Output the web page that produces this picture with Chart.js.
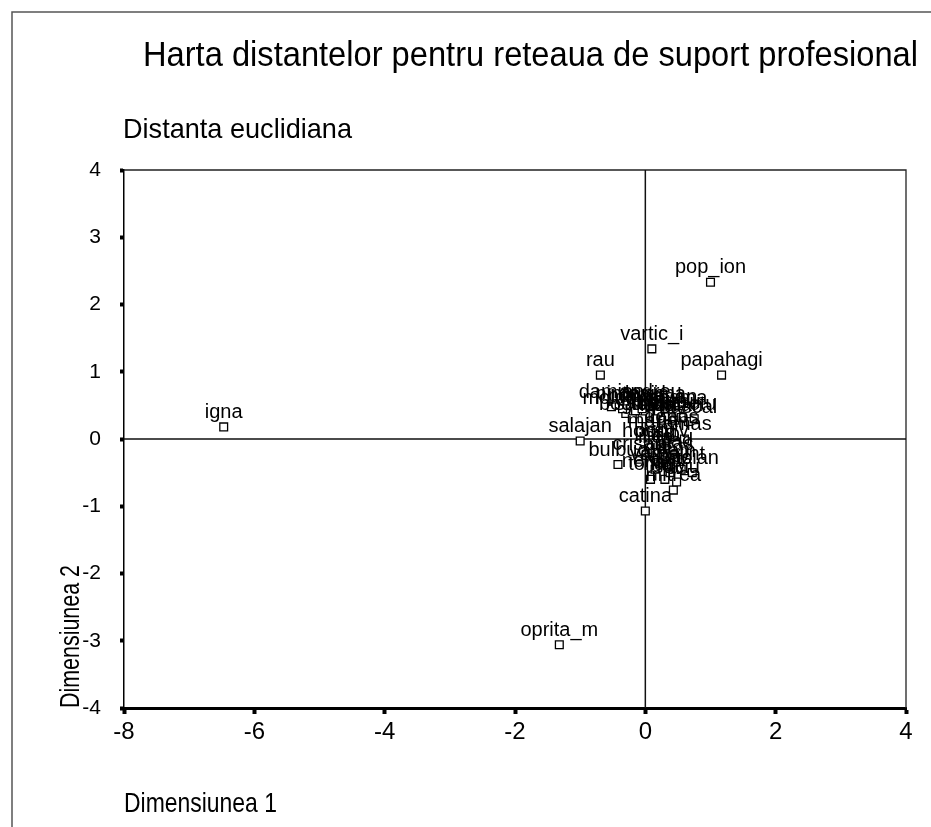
<!DOCTYPE html>
<html>
<head>
  <title>Harta distantelor pentru reteaua de suport profesional</title>
  <script src="https://cdn.jsdelivr.net/npm/chart.js"></script>
  <style>
    body { margin: 0; background: #fff; }
    canvas { display: block; }
  </style>
</head>
<body>
  <canvas id="mds" width="931" height="827"></canvas>

  <script>
    // coordonate MDS (Dimensiunea 1, Dimensiunea 2)
    const names = [
      "igna", "pop_ion", "vartic_i", "rau", "papahagi", "salajan", "oprita_m", "catina",
      "damian", "andreu", "pascal", "moldovan", "pop_a", "rusu", "muresan", "bota",
      "cosma", "lazar", "sabau", "bulbuc", "nemes", "stoian", "hossu", "ilies",
      "filip", "vlad", "marian", "dobos", "tamas", "crisan", "avram", "mitrea",
      "suciu", "toma", "balint", "pintea", "bogdan", "chis", "sima", "roman",
      "ursu", "cretu", "david", "gal", "nagy", "varga", "sas", "pop_v", "opris"
    ];
    const dim1 = [
      -6.47, 1.00, 0.10, -0.69, 1.17, -1.00, -1.32, 0.00,
      -0.52, 0.08, 0.66, -0.30, -0.15, 0.00, 0.20, 0.35,
      0.50, 0.25, -0.05, -0.42, 0.10, 0.72, 0.05, 0.15,
      0.30, 0.45, 0.20, 0.40, 0.60, -0.10, 0.35, 0.43,
      0.48, 0.08, 0.55, -0.35, -0.20, 0.15, 0.30, 0.45,
      0.55, 0.75, -0.05, 0.20, 0.30, 0.15, 0.50, 0.25, 0.38
    ];
    const dim2 = [
      0.18, 2.33, 1.34, 0.95, 0.95, -0.03, -3.06, -1.07,
      0.48, 0.48, 0.26, 0.38, 0.42, 0.35, 0.40, 0.33,
      0.38, 0.28, 0.30, -0.38, -0.55, -0.50, -0.10, -0.20,
      -0.15, -0.25, 0.05, 0.10, 0.00, -0.30, -0.40, -0.76,
      -0.64, -0.60, -0.45, 0.45, 0.30, 0.30, 0.45, 0.28,
      0.32, 0.30, 0.45, -0.35, -0.60, -0.45, -0.30, -0.10, -0.50
    ];
    const xTicks = [-8, -6, -4, -2, 0, 2, 4];
    const yTicks = [-4, -3, -2, -1, 0, 1, 2, 3, 4];

    const points = dim1.map((x, i) => ({ x: x, y: dim2[i] }));

    function squeezeText(ctx, text, x, y, targetW, font, rot) {
      ctx.save();
      ctx.font = font;
      const w = ctx.measureText(text).width;
      ctx.translate(x, y);
      if (rot) ctx.rotate(rot);
      ctx.scale(targetW / w, 1);
      ctx.textAlign = 'left';
      ctx.textBaseline = 'alphabetic';
      ctx.fillStyle = '#000';
      ctx.fillText(text, 0, 0);
      ctx.restore();
    }

    const decor = {
      id: 'decor',
      beforeDatasetsDraw(chart) {
        const ctx = chart.ctx;
        const a = chart.chartArea;
        const sx = chart.scales.x, sy = chart.scales.y;
        ctx.save();
        // cadrul exterior
        ctx.strokeStyle = '#555';
        ctx.lineWidth = 1.5;
        ctx.beginPath();
        ctx.moveTo(12, 827); ctx.lineTo(12, 12); ctx.lineTo(931, 12);
        ctx.stroke();
        // marginile de sus si dreapta ale zonei de grafic
        ctx.strokeStyle = '#222';
        ctx.lineWidth = 1.3;
        ctx.beginPath();
        ctx.moveTo(a.left, a.top); ctx.lineTo(a.right, a.top); ctx.lineTo(a.right, a.bottom);
        ctx.stroke();
        // axele prin zero
        ctx.strokeStyle = '#111';
        ctx.lineWidth = 1.5;
        const x0 = sx.getPixelForValue(0), y0 = sy.getPixelForValue(0);
        ctx.beginPath();
        ctx.moveTo(x0, a.top); ctx.lineTo(x0, a.bottom);
        ctx.moveTo(a.left, y0); ctx.lineTo(a.right, y0);
        ctx.stroke();
        ctx.restore();

        squeezeText(ctx, 'Harta distantelor pentru reteaua de suport profesional', 143, 66, 775, '35px Arial');
        squeezeText(ctx, 'Distanta euclidiana', 123, 138, 229, '28px Arial');
        squeezeText(ctx, 'Dimensiunea 1', 124, 812, 153, '28px Arial');
        squeezeText(ctx, 'Dimensiunea 2', 79, 708, 143, '28px Arial', -Math.PI / 2);
      },
      afterDatasetsDraw(chart) {
        const ctx = chart.ctx;
        const sx = chart.scales.x, sy = chart.scales.y;
        ctx.save();
        ctx.font = '20px Arial';
        ctx.fillStyle = '#000';
        ctx.textAlign = 'center';
        ctx.textBaseline = 'alphabetic';
        names.forEach((n, i) => {
          ctx.fillText(n, sx.getPixelForValue(dim1[i]), sy.getPixelForValue(dim2[i]) - 9);
        });
        ctx.restore();
      }
    };

    const chart = new Chart(document.getElementById('mds'), {
      type: 'scatter',
      data: {
        datasets: [{
          data: points,
          pointStyle: 'rect',
          pointRadius: 5.5,
          pointBackgroundColor: '#fff',
          pointBorderColor: '#000',
          pointBorderWidth: 1.3
        }]
      },
      options: {
        responsive: false,
        animation: false,
        layout: { padding: { left: 0, top: 170, right: 25, bottom: 0 } },
        plugins: { legend: { display: false }, tooltip: { enabled: false } },
        scales: {
          x: {
            type: 'linear',
            min: -8, max: 4,
            afterFit(scale) { scale.height = 119; },
            afterBuildTicks(scale) { scale.ticks = xTicks.map(v => ({ value: v })); },
            grid: { drawOnChartArea: false, tickLength: 6, tickWidth: 4, tickColor: '#000' },
            border: { color: '#000', width: 3 },
            ticks: { color: '#000', font: { family: 'Arial', size: 24 }, padding: 4 }
          },
          y: {
            type: 'linear',
            min: -4, max: 4,
            afterFit(scale) { scale.width = 124; },
            afterBuildTicks(scale) { scale.ticks = yTicks.map(v => ({ value: v })); },
            grid: { drawOnChartArea: false, tickLength: 4, tickWidth: 4, tickColor: '#000' },
            border: { color: '#000', width: 1.5 },
            ticks: { color: '#000', font: { family: 'Arial', size: 21 }, padding: 19 }
          }
        }
      },
      plugins: [decor]
    });
  </script>
</body>
</html>
